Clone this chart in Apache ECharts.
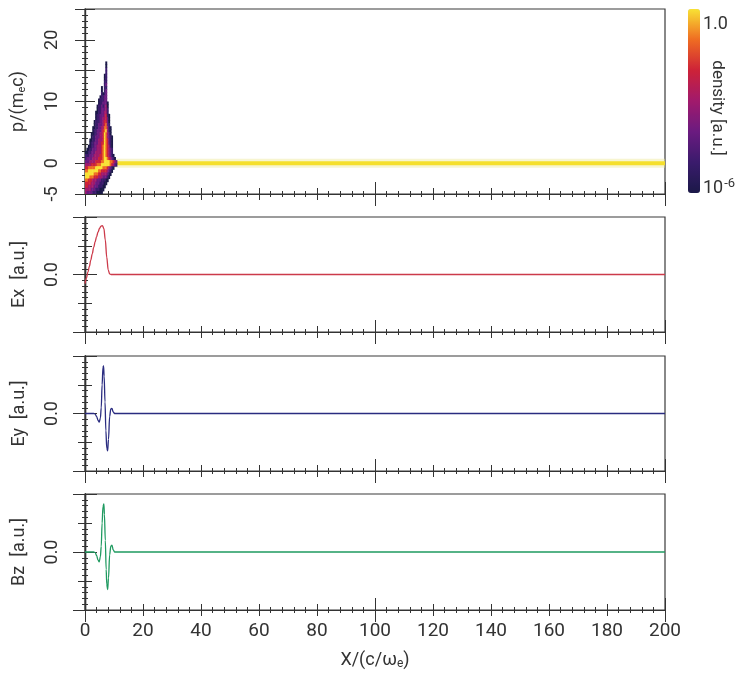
<!DOCTYPE html>
<html><head><meta charset="utf-8">
<script src="https://cdn.jsdelivr.net/npm/echarts@6/dist/echarts.min.js"></script>
<style>html,body{margin:0;padding:0;background:#fff}#c{width:746px;height:680px}</style>
</head><body><div id="c"></div>
<script>
// ---------- data ----------
// phase-space density bins (lower edges), digit d => log10(density) = d - 6, '.' = empty
const xBins = [0,0.5,1,1.5,2,2.5,3,3.5,4,4.5,5,5.5,6,6.5,7,7.5,8,8.5,9,9.5,10,10.5];
const pBins = [16,15.5,15,14.5,14,13.5,13,12.5,12,11.5,11,10.5,10,9.5,9,8.5,8,7.5,7,6.5,6,5.5,5,4.5,4,3.5,3,2.5,2,1.5,1,0.5,0,-0.5,-1,-1.5,-2,-2.5,-3,-3.5,-4,-4.5,-5];
const densityRows = [
  "..............0.......",
  "..............0.......",
  "..............1.......",
  "..............1.......",
  ".............01.......",
  ".............01.......",
  ".............11.......",
  ".............12.......",
  "...........0.11.......",
  "...........0.12.......",
  "...........1012.......",
  "..........01122.......",
  ".........011122.......",
  ".........0112220......",
  "........01121230......",
  "........01122231......",
  ".......001122331......",
  ".......0112223410.....",
  ".......0112233420.....",
  "......01112234420.....",
  "......01122234521.....",
  ".....0011223355310....",
  ".....0112223456310....",
  "....00112233465320....",
  "....011222334653210...",
  "...0011223334654210...",
  "...0112223344654210...",
  "..00112233345654310...",
  ".001122233345654321...",
  "0011222333345654321...",
  "11122233334456543210..",
  "122223333444566543210.",
  "2223333444455666655432",
  "3333444455566666654321",
  "44555556666655543210..",
  "5566666665544443210...",
  "666666555443333210....",
  "66655544433322210.....",
  "5544433322211100......",
  "444433322211100.......",
  "44333322211100........",
  "3333222111000.........",
  "322221110000.........."
];
const binX = 0.5, binP = 0.5;
// cold background plasma line
const bgX = [10, 200];
const bgP = [0, 0];
// fields
const exX = [0, 0.5, 1, 1.5, 2, 2.5, 3, 3.5, 4, 4.5, 5, 5.5, 6, 6.5, 7, 7.5, 8, 8.5, 9, 200];
const exV = [-0.16, -0.06, 0.04, 0.14, 0.25, 0.36, 0.47, 0.57, 0.66, 0.74, 0.8, 0.84, 0.85, 0.8, 0.6, 0.3, 0.08, 0.01, 0, 0];
const eyX = [0, 3, 3.5, 4, 4.5, 4.9, 5.3, 5.6, 5.9, 6.2, 6.4, 6.6, 6.9, 7.2, 7.5, 7.8, 8.1, 8.5, 8.9, 9.3, 9.7, 10.2, 200];
const eyV = [0, 0, -0.01, -0.05, -0.12, -0.15, -0.08, 0.1, 0.5, 0.8, 0.83, 0.65, 0.2, -0.3, -0.6, -0.65, -0.45, -0.05, 0.08, 0.09, 0.03, 0, 0];
const bzX = [0, 3, 3.5, 4, 4.5, 4.9, 5.3, 5.6, 5.9, 6.2, 6.5, 6.7, 7.0, 7.3, 7.5, 7.8, 8.1, 8.5, 8.9, 9.3, 9.7, 10.2, 200];
const bzV = [0, 0, -0.01, -0.06, -0.14, -0.17, -0.08, 0.1, 0.5, 0.78, 0.83, 0.65, 0.2, -0.3, -0.55, -0.65, -0.45, -0.05, 0.1, 0.12, 0.04, 0, 0];
const pTickLabels = [-5, 0, 10, 20];
const fieldNames = ['Ex  [a.u.]', 'Ey  [a.u.]', 'Bz  [a.u.]'];

// ---------- build ----------
const cells = [];
densityRows.forEach((row, r) => {
  for (let c = 0; c < row.length; c++) {
    const ch = row[c];
    if (ch === '.') continue;
    cells.push([xBins[c], pBins[r], Number(ch) - 6]);
  }
});
const zip = (a, b) => a.map((v, i) => [v, b[i]]);

const FONT = 'Roboto, "Liberation Sans", sans-serif';
const INK = '#333';
const grids = [
  {left: 85, top: 9, width: 580, height: 185},
  {left: 85, top: 217, width: 580, height: 115},
  {left: 85, top: 356, width: 580, height: 115},
  {left: 85, top: 494, width: 580, height: 116}
].map(g => Object.assign(g, {show: true, borderColor: '#3a3a3a', borderWidth: 1.2, backgroundColor: 'transparent', containLabel: false, outerBoundsMode: 'none'}));

const xAxis = [], yAxis = [];
const xBase = [], yBase = [];
const lineS = {color: INK, width: 1.2};
const tickS = {color: INK, width: 1};
for (let g = 0; g < 4; g++) {
  const last = g === 3;
  const common = {type: 'value', gridIndex: g, min: 0, max: 200, position: 'bottom', offset: 0,
    splitLine: {show: false}, minorSplitLine: {show: false},
    axisLine: {show: true, onZero: false, lineStyle: lineS}, axisLabel: {show: false}};
  xBase.push(xAxis.length);
  xAxis.push(Object.assign({}, common, {interval: 20,
    axisTick: {show: true, inside: false, length: 6, lineStyle: tickS},
    minorTick: {show: true, splitNumber: 5, length: 3, lineStyle: tickS},
    axisLabel: {show: last, margin: 12, fontSize: 19, color: INK, fontFamily: FONT},
    name: last ? 'X/(c/ω{sub|e})' : '', nameLocation: 'middle', nameGap: 40,
    nameTextStyle: {fontSize: 18, color: INK, fontFamily: FONT,
      rich: {sub: {fontSize: 12, color: INK, fontFamily: FONT, padding: [8, 0, 0, 0]}}}}));
  xAxis.push(Object.assign({}, common, {interval: 20,
    axisTick: {show: true, inside: true, length: 6, lineStyle: tickS},
    minorTick: {show: true, splitNumber: 5, length: 3, lineStyle: tickS}}));
  xAxis.push(Object.assign({}, common, {interval: 100,
    axisTick: {show: true, inside: false, length: 12, lineStyle: tickS}, minorTick: {show: false}}));
  xAxis.push(Object.assign({}, common, {interval: 100,
    axisTick: {show: true, inside: true, length: 12, lineStyle: tickS}, minorTick: {show: false}}));

  const top = g === 0;
  const yc = {type: 'value', gridIndex: g, position: 'left', offset: 0,
    min: top ? -5 : -1, max: top ? 25 : 1,
    splitLine: {show: false}, minorSplitLine: {show: false},
    axisLine: {show: true, onZero: false, lineStyle: lineS}, axisLabel: {show: false}};
  yBase.push(yAxis.length);
  yAxis.push(Object.assign({}, yc, {interval: top ? 5 : 0.5,
    axisTick: {show: true, inside: false, length: top ? 10 : 7, lineStyle: tickS},
    minorTick: {show: true, splitNumber: 5, length: 3, lineStyle: tickS},
    axisLabel: {show: true, rotate: 90, margin: 24, fontSize: 18, color: INK, fontFamily: FONT,
      showMinLabel: true, showMaxLabel: true,
      formatter: top ? (v => pTickLabels.indexOf(v) >= 0 ? String(v) : '') : (v => v === 0 ? '0.0' : '')},
    name: top ? 'p/(m{sub|e}c)' : fieldNames[g - 1], nameLocation: 'middle', nameGap: 57, nameRotate: 90,
    nameTextStyle: {fontSize: 18, color: INK, fontFamily: FONT,
      rich: {sub: {fontSize: 11, color: INK, fontFamily: FONT, padding: [9, 0, 0, 0]}}}}));
  yAxis.push(Object.assign({}, yc, {interval: top ? 5 : 0.5,
    axisTick: {show: true, inside: true, length: top ? 10 : 7, lineStyle: tickS},
    minorTick: {show: true, splitNumber: 5, length: 3, lineStyle: tickS}}));
  if (!top) {
    yAxis.push(Object.assign({}, yc, {interval: 1,
      axisTick: {show: true, inside: false, length: 12, lineStyle: tickS}, minorTick: {show: false}}));
    yAxis.push(Object.assign({}, yc, {interval: 1,
      axisTick: {show: true, inside: true, length: 12, lineStyle: tickS}, minorTick: {show: false}}));
  }
}

const fieldLine = (g, x, v, color) => ({
  type: 'line', xAxisIndex: xBase[g], yAxisIndex: yBase[g], data: zip(x, v),
  showSymbol: false, symbol: 'none', smooth: 0.35, smoothMonotone: 'x', z: 3,
  lineStyle: {color: color, width: 1.3}, clip: true
});

const option = {
  animation: false,
  backgroundColor: '#fff',
  grid: grids,
  xAxis: xAxis,
  yAxis: yAxis,
  visualMap: {
    type: 'continuous', seriesIndex: 0, dimension: 2, min: -6, max: 0,
    left: 688, top: 9, itemWidth: 12, itemHeight: 184, padding: 0,
    calculable: false, hoverLink: false, orient: 'vertical',
    inRange: {color: ['#1b1948', '#3a1b6c', '#6b1b80', '#a11a6c', '#cd2238', '#ef6c22', '#f8e234']}
  },
  graphic: [
    {type: 'text', x: 703, y: 24, style: {text: '1.0', fontSize: 18, fill: INK, fontFamily: FONT,
      textVerticalAlign: 'middle', verticalAlign: 'middle'}},
    {type: 'text', x: 703, y: 200, style: {text: '10{sup|-6}', fontSize: 18, fill: INK, fontFamily: FONT,
      textVerticalAlign: 'bottom', verticalAlign: 'bottom',
      rich: {sup: {fontSize: 13, fill: INK, color: INK, fontFamily: FONT, padding: [0, 0, 10, 1]}}}},
    {type: 'text', x: 717, y: 108, rotation: -Math.PI / 2,
      style: {text: 'density [a.u.]', fontSize: 17, fill: INK, fontFamily: FONT,
        textAlign: 'center', align: 'center', textVerticalAlign: 'middle', verticalAlign: 'middle'}}
  ],
  series: [
    {
      type: 'custom', xAxisIndex: xBase[0], yAxisIndex: yBase[0], data: cells, z: 2, clip: true,
      encode: {x: 0, y: 1},
      renderItem: function (params, api) {
        const x = api.value(0), p = api.value(1);
        const tl = api.coord([x, p + binP]);
        const sz = api.size([binX, binP]);
        return {type: 'rect', shape: {x: tl[0], y: tl[1], width: sz[0] + 0.5, height: sz[1] + 0.5},
          style: {fill: api.visual('color')}};
      }
    },
    {type: 'line', xAxisIndex: xBase[0], yAxisIndex: yBase[0], data: zip(bgX, bgP), showSymbol: false, symbol: 'none',
      z: 1, lineStyle: {color: 'rgba(238,232,150,0.45)', width: 9}},
    {type: 'line', xAxisIndex: xBase[0], yAxisIndex: yBase[0], data: zip(bgX, bgP), showSymbol: false, symbol: 'none',
      z: 1, lineStyle: {color: '#f5df2c', width: 4}},
    fieldLine(1, exX, exV, '#cc3a4a'),
    fieldLine(2, eyX, eyV, '#2a2c80'),
    fieldLine(3, bzX, bzV, '#1f9a60')
  ]
};
const chart = echarts.init(document.getElementById('c'), null, {renderer: 'canvas'});
chart.setOption(option);
</script>
</body></html>
